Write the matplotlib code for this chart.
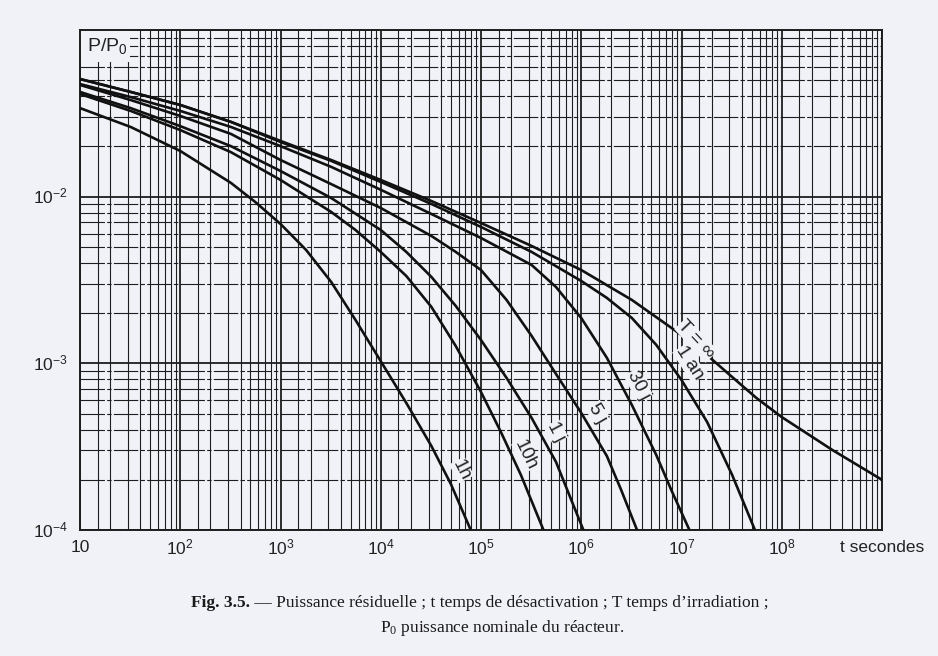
import numpy as np
import matplotlib
matplotlib.use('Agg')
import matplotlib.pyplot as plt
import matplotlib.ticker as mticker
from matplotlib.patches import Rectangle

# residual power P/P0 against cooling time t (s), one curve per irradiation time T
t_inf = [10, 32, 100, 320, 1e3, 3.2e3, 1e4, 3.2e4, 1e5, 3.2e5, 1e6, 3.2e6, 1e7, 1.8e7,
         3.2e7, 5.6e7, 1e8, 3.2e8, 1e9]
p_inf = [0.0508, 0.0425, 0.0355, 0.0281, 0.0216, 0.0166, 0.0126, 0.00942, 0.00695, 0.00506,
         0.00363, 0.0024, 0.00148, 0.00112, 0.000828, 0.000619, 0.000476, 0.000302, 0.0002]

t_1an = [10, 32, 100, 320, 1e3, 3.2e3, 1e4, 3.2e4, 1e5, 3.2e5, 1e6, 1.8e6, 3.2e6, 5.6e6,
         1e7, 1.8e7, 3.2e7, 5.4e7]
p_1an = [0.0508, 0.0425, 0.0355, 0.0281, 0.0213, 0.0164, 0.01225, 0.00904, 0.00658, 0.00466,
         0.00312, 0.00247, 0.00187, 0.00129, 0.000794, 0.000445, 0.000214, 0.0001]

t_30j = [10, 32, 100, 320, 1e3, 3.2e3, 1e4, 3.2e4, 1e5, 3.2e5, 5.6e5, 1e6, 1.8e6, 3.2e6,
         5.6e6, 7.9e6, 1.2e7]
p_30j = [0.0474, 0.0396, 0.0327, 0.0262, 0.0201, 0.0151, 0.011, 0.00787, 0.00565, 0.00389,
         0.00287, 0.00187, 0.00108, 0.000562, 0.000282, 0.000174, 0.0001]

t_5j = [10, 32, 100, 320, 1e3, 3.2e3, 1e4, 3.2e4, 5.6e4, 1e5, 1.8e5, 3.2e5, 5.6e5, 1e6,
        1.8e6, 2.5e6, 3.6e6]
p_5j = [0.0468, 0.038, 0.0305, 0.0238, 0.0166, 0.0119, 0.00855, 0.00581, 0.00466, 0.00363,
        0.0024, 0.00146, 0.000863, 0.000504, 0.000278, 0.000174, 0.0001]

t_1j = [10, 32, 100, 320, 1e3, 3.2e3, 1e4, 1.8e4, 3.2e4, 5.6e4, 1e5, 1.8e5, 3.2e5, 5.6e5, 1.05e6]
p_1j = [0.0425, 0.034, 0.0265, 0.0201, 0.01426, 0.00982, 0.00631, 0.00466, 0.0033, 0.00221,
        0.00138, 0.000817, 0.00047, 0.000256, 0.0001]

t_10h = [10, 32, 100, 320, 1e3, 3.2e3, 5.6e3, 1e4, 1.8e4, 3.2e4, 5.6e4, 1e5, 1.58e5, 2.5e5, 4.2e5]
p_10h = [0.0413, 0.0327, 0.0251, 0.0185, 0.0126, 0.0081, 0.00631, 0.00466, 0.00334, 0.00218,
         0.00127, 0.000673, 0.000387, 0.000214, 0.0001]

t_1h = [10, 32, 100, 320, 560, 1e3, 1.8e3, 3.2e3, 5.6e3, 1e4, 1.8e4, 3.2e4, 5e4, 7.9e4]
p_1h = [0.034, 0.0262, 0.0188, 0.0121, 0.00929, 0.00686, 0.00479, 0.00308, 0.00182, 0.00103,
        0.000578, 0.000319, 0.000189, 0.0001]

curves = [(t_inf, p_inf), (t_1an, p_1an), (t_30j, p_30j), (t_5j, p_5j),
          (t_1j, p_1j), (t_10h, p_10h), (t_1h, p_1h)]

curve_names = ['T = ∞', '1 an', '30 j', '5 j', '1 j', '10h', '1h']
# label centre (t, P) and angle for each curve name
label_pos = [(1.4e7, 1.38e-3, -47), (1.2e7, 1.0e-3, -57), (3.7e6, 7.4e-4, -62),
             (1.45e6, 5.04e-4, -60), (5.6e5, 3.87e-4, -62), (2.8e5, 2.82e-4, -64),
             (6.4e4, 2.29e-4, -63)]

x_ticks = [10, 1e2, 1e3, 1e4, 1e5, 1e6, 1e7, 1e8]
x_ticklabels = ['10', '$10^2$', '$10^3$', '$10^4$', '$10^5$', '$10^6$', '$10^7$', '$10^8$']
y_ticks = [1e-4, 1e-3, 1e-2]
y_ticklabels = ['$10^{-4}$', '$10^{-3}$', '$10^{-2}$']

bg = '#f1f2f7'
ink = '#1e1e1e'

plt.rcParams['font.family'] = ['Liberation Sans', 'DejaVu Sans']
plt.rcParams['mathtext.default'] = 'regular'

fig = plt.figure(figsize=(9.38, 6.56), dpi=100, facecolor=bg)
ax = fig.add_axes([80 / 938, 126 / 656, 802 / 938, 500 / 656])
ax.set_facecolor(bg)
ax.set_xscale('log')
ax.set_yscale('log')
ax.set_xlim(10, 1e9)
ax.set_ylim(1e-4, 1e-1)

# dense log paper grid
ax.xaxis.set_major_locator(mticker.LogLocator(base=10, numticks=20))
ax.xaxis.set_minor_locator(mticker.LogLocator(base=10, subs=[1.5, 2, 3, 4, 5, 6, 7, 8, 9], numticks=50))
ax.yaxis.set_major_locator(mticker.LogLocator(base=10, numticks=20))
ax.yaxis.set_minor_locator(mticker.LogLocator(base=10, subs=[2, 3, 4, 5, 6, 7, 8, 9], numticks=50))
ax.grid(which='major', axis='both', color=ink, lw=1.3)
ax.grid(which='minor', axis='x', color=ink, lw=0.8)
ax.grid(which='minor', axis='y', color=ink, lw=0.8, dashes=(22, 2, 4, 2))
ax.tick_params(which='both', length=0, labelbottom=False, labelleft=False)
for s in ax.spines.values():
    s.set_color(ink)
    s.set_linewidth(1.4)

for t, p in curves:
    ax.plot(t, p, color='#111111', lw=1.9, solid_joinstyle='round', zorder=3)

for name, (lt, lp, rot) in zip(curve_names, label_pos):
    ax.text(lt, lp, name, fontsize=13.5, rotation=rot, rotation_mode='anchor',
            ha='center', va='center', color='#222222', zorder=4,
            bbox=dict(facecolor=bg, edgecolor='none', pad=0.2))

# tick labels as plain texts (no tick marks on the original)
for xv, lab in zip(x_ticks, x_ticklabels):
    ax.text(xv, 10 ** -4.105, lab, fontsize=12.5, ha='center', va='center', color='#222222')
for yv, lab in zip(y_ticks, y_ticklabels):
    ax.text(10 ** 0.88, yv, lab, fontsize=12.5, ha='right', va='center', color='#222222')
ax.text(10 ** 8.58, 10 ** -4.105, 't secondes', fontsize=12.5, ha='left', va='center', color='#222222')

# blank corner with the axis name
ax.add_patch(Rectangle((0.0, 0.936), 0.062, 0.064, transform=ax.transAxes,
                       facecolor=bg, edgecolor='none', zorder=2.2))
ax.text(0.034, 0.968, 'P/P$_0$', transform=ax.transAxes, fontsize=14,
        ha='center', va='center', color='#222222', zorder=2.3)

# caption, bold figure number followed by normal text
cap_y = 1 - 603 / 656
c1 = fig.text(0, cap_y, 'Fig. 3.5.', family='Liberation Serif', weight='bold', fontsize=12.5,
              va='center', color='#1a1a1a')
c2 = fig.text(0, cap_y, ' — Puissance résiduelle ; t temps de désactivation ; T temps d’irradiation ;',
              family='Liberation Serif', fontsize=12.5, va='center', color='#1a1a1a')
fig.canvas.draw()
r = fig.canvas.get_renderer()
w1 = c1.get_window_extent(r).width / fig.bbox.width
w2 = c2.get_window_extent(r).width / fig.bbox.width
x0 = 480 / 938 - (w1 + w2) / 2
c1.set_x(x0)
c2.set_x(x0 + w1)
fig.text(502 / 938, 1 - 628 / 656, 'P$_0$ puissance nominale du réacteur.',
         family='Liberation Serif', fontsize=12.5, ha='center', va='center', color='#1a1a1a')

fig.savefig('out.png', dpi=100, facecolor=bg)
